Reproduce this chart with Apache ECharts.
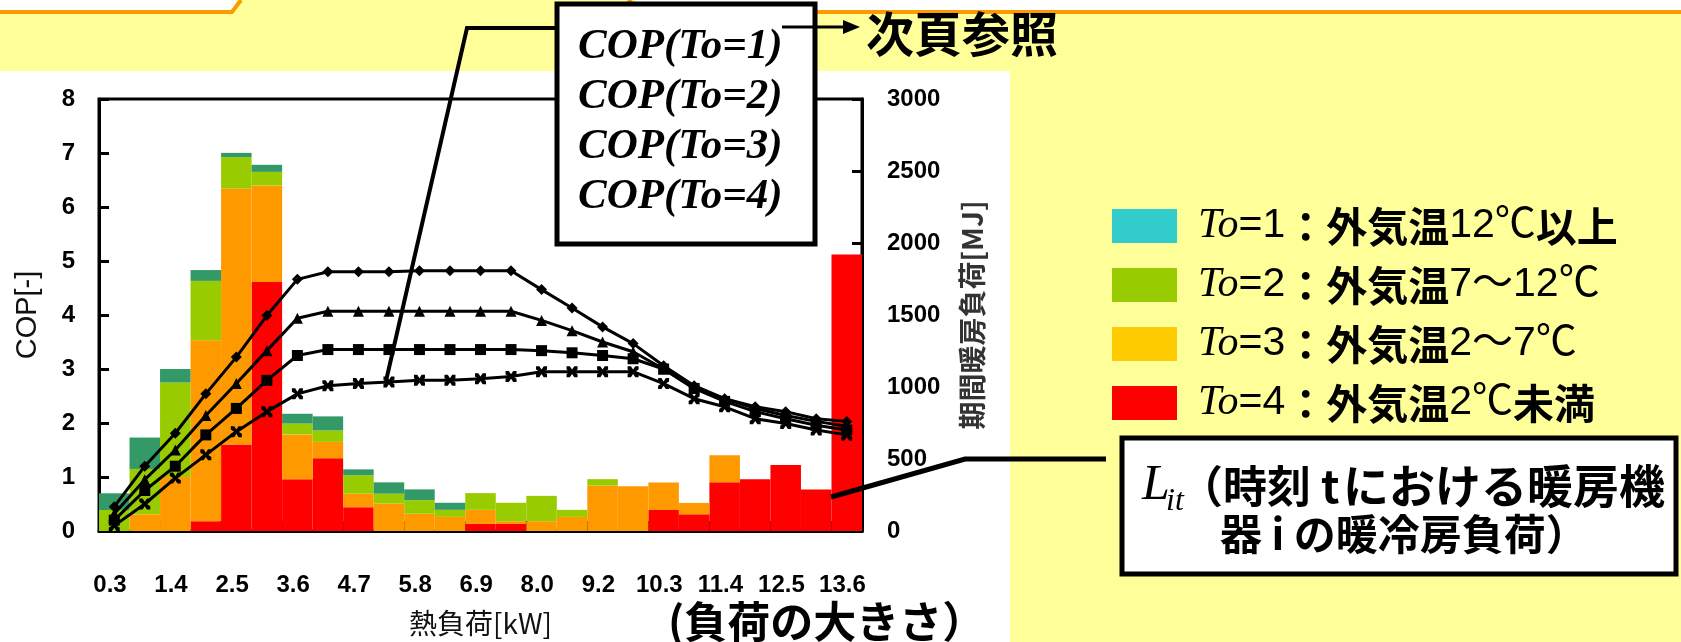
<!DOCTYPE html>
<html><head><meta charset="utf-8">
<script src="https://cdn.jsdelivr.net/npm/echarts@6/dist/echarts.min.js"></script>
<style>html,body{margin:0;padding:0;background:#FFFF99}#c{width:1681px;height:642px}</style>
</head><body><div id="c"></div>
<script>
// ---- data ----
const bins = ['b1','b2','b3','b4','b5','b6','b7','b8','b9','b10','b11','b12','b13','b14','b15','b16','b17','b18','b19','b20','b21','b22','b23','b24','b25'];
const tickLabels = ['0.3','1.4','2.5','3.6','4.7','5.8','6.9','8.0','9.2','10.3','11.4','12.5','13.6'];
// seasonal heating load per bin [MJ]
const loadTo4 = [0,0,0,68,600,1729,360,506,165,0,0,0,49,49,0,0,0,0,146,116,338,360,458,289,1920];
const loadTo3 = [0,116,375,1256,1778,671,311,113,94,191,120,98,98,19,68,98,315,311,191,79,188,0,0,0,0];
const loadTo2 = [146,315,656,413,218,94,75,79,128,68,94,49,116,128,176,49,45,0,0,0,0,0,0,0,0];
const loadTo1 = [116,218,94,75,30,49,68,98,41,79,75,49,0,0,0,0,0,0,0,0,0,0,0,0,0];
// COP curves
const copTo1 = [0.45,1.20,1.81,2.54,3.22,3.99,4.66,4.80,4.80,4.80,4.82,4.82,4.82,4.82,4.47,4.13,3.78,3.47,3.06,2.69,2.45,2.30,2.21,2.08,2.03];
const copTo2 = [0.32,0.95,1.50,2.14,2.73,3.34,3.94,4.07,4.07,4.07,4.07,4.07,4.07,4.07,3.90,3.71,3.50,3.32,3.00,2.64,2.45,2.27,2.14,2.03,1.94];
const copTo3 = [0.20,0.75,1.20,1.78,2.27,2.79,3.25,3.36,3.36,3.36,3.36,3.36,3.36,3.36,3.34,3.30,3.25,3.19,3.00,2.64,2.40,2.21,2.08,1.96,1.87];
const copTo4 = [0.10,0.50,0.98,1.41,1.84,2.21,2.54,2.69,2.73,2.76,2.79,2.79,2.82,2.86,2.95,2.95,2.95,2.95,2.73,2.45,2.30,2.08,1.99,1.87,1.78];
const legendNames = ['To=1','To=2','To=3','To=4'];
const legendRich = ['{it|To}{n|=1}{b|：外気温}{n|12℃}{b|以上}','{it|To}{n|=2}{b|：外気温}{n|7～12℃}','{it|To}{n|=3}{b|：外気温}{n|2～7℃}','{it|To}{n|=4}{b|：外気温}{n|2℃}{b|未満}'];
const copNames = ['COP(To=1)','COP(To=2)','COP(To=3)','COP(To=4)'];

// ---- style ----
const SANS = '"Liberation Sans", "Noto Sans CJK JP", sans-serif';
const CJK = '"Noto Sans CJK JP", "Liberation Sans", sans-serif';
const SERIF = '"Liberation Serif", serif';
const barColors = {'To=4':'#FF0000','To=3':'#FF9900','To=2':'#99CC00','To=1':'#339966'};
const legendColors = ['#33CCCC','#99CC00','#FFCC00','#FF0000'];
const xMark = 'path://M0,0 L3,0 L5,3 L7,0 L10,0 L10,3 L7,5 L10,7 L10,10 L7,10 L5,7 L3,10 L0,10 L0,7 L3,5 L0,3 Z';
const symbols = ['diamond','triangle','rect',xMark];

const chart = echarts.init(document.getElementById('c'), null, {renderer:'canvas'});
const axisLine = {show:true, lineStyle:{color:'#000', width:3}};
const axisTick = {show:true, inside:true, length:10, lineStyle:{color:'#000', width:3}};
const tickFont = {fontSize:24, fontWeight:'bold', fontFamily:SANS, color:'#000'};

const barSeries = [['To=4',loadTo4],['To=3',loadTo3],['To=2',loadTo2],['To=1',loadTo1]].map(([n,d]) => ({
  name:n, type:'bar', stack:'load', xAxisIndex:0, yAxisIndex:1, data:d,
  barWidth:'100%', barCategoryGap:'0%', itemStyle:{color:barColors[n]}, z:2
}));
const lineSeries = [copTo1,copTo2,copTo3,copTo4].map((d,i) => ({
  name:copNames[i], type:'line', xAxisIndex:0, yAxisIndex:0, data:d,
  symbol:symbols[i], symbolSize:11, showAllSymbol:true,
  lineStyle:{color:'#000', width:3}, itemStyle:{color:'#000', borderWidth:0}, z:5
}));

const W = 5;
const option = {
  backgroundColor:'#FFFF99',
  animation:false,
  grid:{left:99, right:819, top:99, bottom:109, show:true, backgroundColor:'#fff', borderColor:'#000', borderWidth:3},
  legend:{
    data: legendNames.map((n,i)=>({name:n, icon:'rect', itemStyle:{color:legendColors[i]}})),
    orient:'vertical', left:1107, top:200, itemWidth:65, itemHeight:34, itemGap:17,
    selectedMode:false,
    formatter: n => legendRich[legendNames.indexOf(n)],
    textStyle:{rich:{
      it:{fontFamily:SERIF, fontStyle:'italic', fontSize:42, color:'#000', padding:[0,0,0,16]},
      n:{fontFamily:SANS, fontSize:41, color:'#000'},
      b:{fontFamily:CJK, fontWeight:'bold', fontSize:41, color:'#000'}
    }}
  },
  xAxis:[
    {type:'category', data:bins, show:false, boundaryGap:true, gridIndex:0},
    {type:'value', min:0, max:25, interval:2, position:'bottom', gridIndex:0,
     axisLine:axisLine, axisTick:axisTick, splitLine:{show:false},
     axisLabel:Object.assign({margin:42, padding:[0,0,0,22],
       formatter: v => (Number.isInteger(v/2) && v/2 < tickLabels.length) ? tickLabels[v/2] : ''}, tickFont),
     name:'熱負荷[kW]', nameLocation:'middle', nameGap:78,
     nameTextStyle:{fontSize:28, fontFamily:CJK, color:'#111'}}
  ],
  yAxis:[
    {type:'value', min:0, max:8, interval:1, position:'left',
     axisLine:axisLine, axisTick:axisTick, splitLine:{show:false},
     axisLabel:Object.assign({margin:24, padding:[8,0,0,0]}, tickFont),
     name:'COP[-]', nameLocation:'middle', nameGap:56, nameRotate:90,
     nameTextStyle:{fontSize:29, fontFamily:SANS, color:'#111'}},
    {type:'value', min:0, max:3000, interval:500, position:'right',
     axisLine:axisLine, axisTick:axisTick, splitLine:{show:false},
     axisLabel:Object.assign({margin:25, padding:[10,0,0,0], formatter: v => String(v)}, tickFont),
     name:'期間暖房負荷[MJ]', nameLocation:'middle', nameGap:96, nameRotate:90,
     nameTextStyle:{fontSize:28, fontFamily:CJK, fontWeight:'bold', color:'#333'}}
  ],
  series: barSeries.concat(lineSeries),
  graphic:[
    {type:'rect', z:-10, silent:true, shape:{x:0,y:71,width:1010,height:571}, style:{fill:'#fff'}},
    {type:'rect', z:-10, silent:true, shape:{x:0,y:0,width:236,height:11}, style:{fill:'#fff'}},
    {type:'polyline', z:-9, silent:true, shape:{points:[[0,12],[232,12],[241,0]]}, style:{stroke:'#FF9900', lineWidth:4, fill:null}},
    {type:'rect', z:-10, silent:true, shape:{x:636,y:0,width:1045,height:11}, style:{fill:'#fff'}},
    {type:'polyline', z:-9, silent:true, shape:{points:[[628,0],[640,9],[656,12],[1681,12]]}, style:{stroke:'#FF9900', lineWidth:4, fill:null}},
    // COP leader + box
    {type:'polyline', z:99, silent:true, shape:{points:[[386,381],[467,28],[557,28]]}, style:{stroke:'#000', lineWidth:4, fill:null}},
    {type:'rect', z:100, silent:true, shape:{x:557,y:4,width:258,height:240}, style:{fill:'#fff', stroke:'#000', lineWidth:W}},
    ...copNames.map((t,i)=>({type:'text', z:101, silent:true, x:578, y:47+50*i,
      style:{text:t, font:'italic bold 43px "Liberation Serif"', fill:'#000', verticalAlign:'middle'}})),
    {type:'polyline', z:102, silent:true, shape:{points:[[782,27],[846,27]]}, style:{stroke:'#000', lineWidth:3, fill:null}},
    {type:'polygon', z:102, silent:true, shape:{points:[[843,20],[860,27],[843,34]]}, style:{fill:'#000'}},
    {type:'text', z:101, silent:true, x:866, y:34, style:{text:'次頁参照', font:'bold 48px "Noto Sans CJK JP"', fill:'#000', verticalAlign:'middle'}},
    {type:'text', z:101, silent:true, x:668, y:622, style:{text:'(負荷の大きさ）', font:'bold 43px "Noto Sans CJK JP"', fill:'#000', verticalAlign:'middle'}},
    // L_it annotation
    {type:'polyline', z:99, silent:true, shape:{points:[[831,497],[965,459],[1106,459]]}, style:{stroke:'#000', lineWidth:5, fill:null}},
    {type:'rect', z:100, silent:true, shape:{x:1122,y:438,width:554,height:136}, style:{fill:'#fff', stroke:'#000', lineWidth:W}},
    {type:'text', z:101, silent:true, x:1142, y:486, style:{text:'L', font:'italic 50px "Liberation Serif"', fill:'#000', verticalAlign:'middle'}},
    {type:'text', z:101, silent:true, x:1166, y:502, style:{text:'it', font:'italic 32px "Liberation Serif"', fill:'#000', verticalAlign:'middle'}},
    {type:'text', z:101, silent:true, x:1179, y:486, style:{text:'（時刻 t', font:'bold 44px "Noto Sans CJK JP"', fill:'#000', verticalAlign:'middle'}},
    {type:'text', z:101, silent:true, x:1343, y:486, style:{text:'における暖房機', font:'bold 46px "Noto Sans CJK JP"', fill:'#000', verticalAlign:'middle'}},
    {type:'text', z:101, silent:true, x:1220, y:534, style:{text:'器 i の暖冷房負荷）', font:'bold 42px "Noto Sans CJK JP"', fill:'#000', verticalAlign:'middle'}}
  ]
};
chart.setOption(option);
</script>
</body></html>
